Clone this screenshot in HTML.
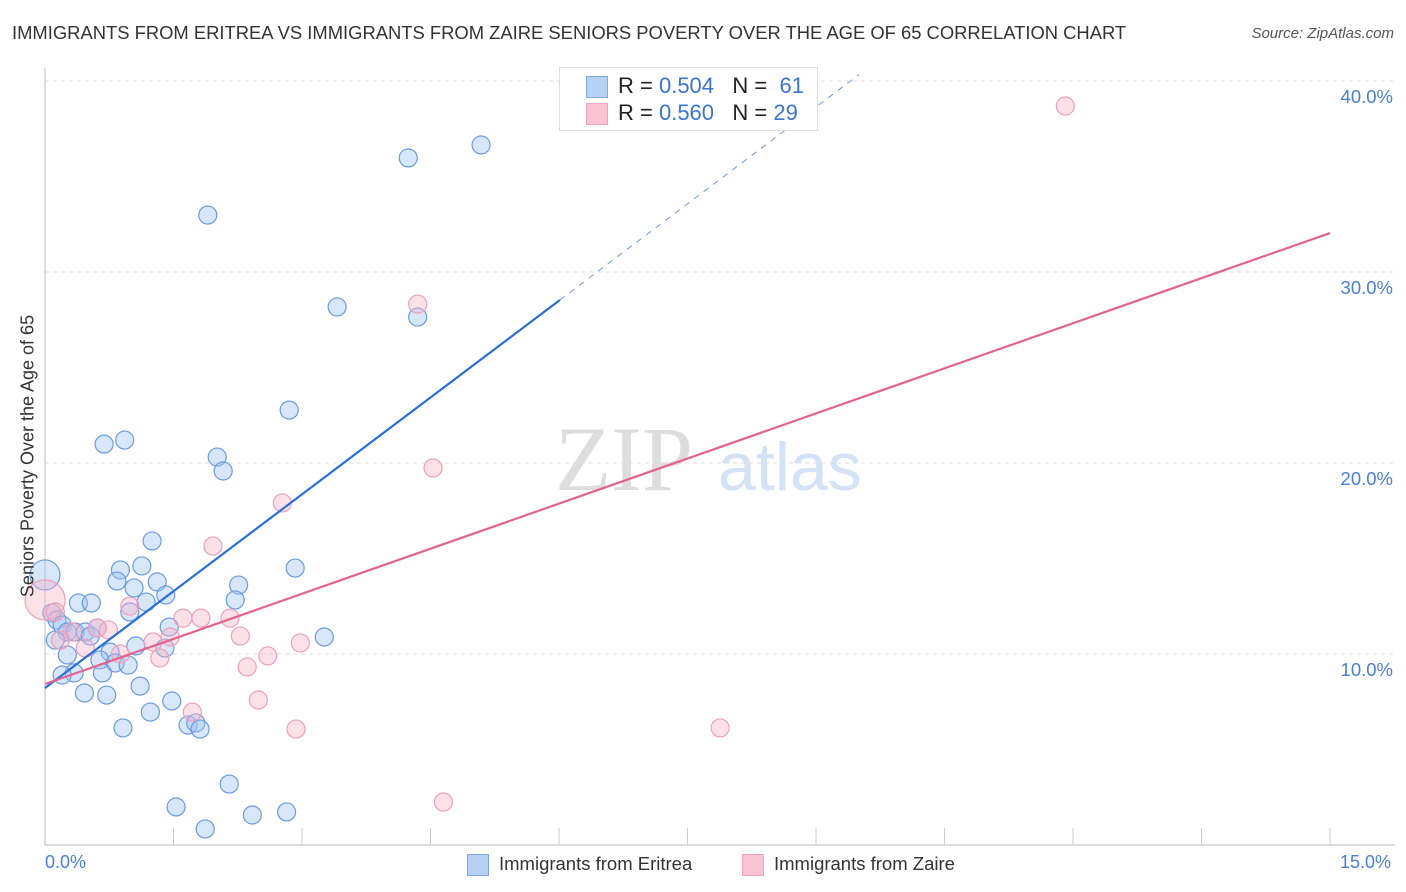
<!DOCTYPE html>
<html><head><meta charset="utf-8"><style>
body{margin:0;background:#fff;font-family:"Liberation Sans",sans-serif;}
#wrap{position:relative;width:1406px;height:892px;overflow:hidden}
.t{position:absolute;white-space:nowrap}
</style></head><body>
<div id="wrap">
<div class="t" style="left:12px;top:22px;font-size:18.4px;color:#333">IMMIGRANTS FROM ERITREA VS IMMIGRANTS FROM ZAIRE SENIORS POVERTY OVER THE AGE OF 65 CORRELATION CHART</div>
<div class="t" style="right:12px;top:25px;font-size:15px;color:#555;font-style:italic">Source: ZipAtlas.com</div>
<svg id="svg" width="1406" height="892" style="position:absolute;left:0;top:0">
<text x="555" y="490" font-size="92" fill="#ddd" font-family="Liberation Serif">ZIP</text>
<text x="718" y="490" font-size="68" fill="#d4e2f5">atlas</text>
</svg>
<div class="t" style="left:28px;top:456px;transform:translate(-50%,-50%) rotate(-90deg);font-size:18px;color:#333">Seniors Poverty Over the Age of 65</div>
<div style="position:absolute;left:559px;top:67px;width:257px;height:62px;border:1px solid #ddd;background:#fff"></div>
<div style="position:absolute;left:586px;top:76px;width:20px;height:20px;background:#b7d1f5;border:1px solid #7fa8e0"></div>
<div style="position:absolute;left:586px;top:103px;width:20px;height:20px;background:#f9c3d4;border:1px solid #eea5bd"></div>
<div class="t" style="left:618px;top:73px;font-size:22px;color:#222">R = <span style="color:#3b73d1">0.504</span>&nbsp;&nbsp;&nbsp;N = &nbsp;<span style="color:#3b73d1">61</span></div>
<div class="t" style="left:618px;top:100px;font-size:22px;color:#222">R = <span style="color:#3b73d1">0.560</span>&nbsp;&nbsp;&nbsp;N = <span style="color:#3b73d1">29</span></div>
<div class="t" style="left:45px;top:852px;font-size:18px;color:#4a7fd4">0.0%</div>
<div class="t" style="left:1340px;top:852px;font-size:18px;color:#4a7fd4">15.0%</div>
<div style="position:absolute;left:467px;top:854px;width:20px;height:20px;background:#b7d1f5;border:1px solid #7fa8e0"></div>
<div class="t" style="left:499px;top:853px;font-size:18.5px;color:#333">Immigrants from Eritrea</div>
<div style="position:absolute;left:742px;top:854px;width:20px;height:20px;background:#f9c3d4;border:1px solid #eea5bd"></div>
<div class="t" style="left:774px;top:853px;font-size:18.5px;color:#333">Immigrants from Zaire</div>
</div>
<script>
const blueX=[0,.08,.14,.20,.26,.35,.47,.53,.61,.26,.12,.39,.54,.69,.93,1.25,1.13,.88,.84,1.31,1.04,1.18,1.41,.99,1.45,1.90,4.24,5.09,3.41,4.35,2.85,2.01,2.08,2.92,2.26,2.22,3.26,1.40,1.06,.76,.64,.82,.97,.34,.67,.20,.46,.72,1.11,1.48,1.23,.91,1.67,1.76,1.81,2.15,1.53,1.87,2.42,2.82];
const blueY=[14.14,12.15,11.78,11.52,11.15,11.15,11.15,10.94,11.36,9.95,10.73,12.67,12.67,20.99,21.20,15.92,14.61,14.40,13.82,13.77,13.46,12.72,13.09,12.20,11.41,32.98,35.97,36.65,28.17,27.64,22.77,20.31,19.58,14.50,13.61,12.83,10.89,10.31,10.42,10.10,9.69,9.53,9.42,9.01,9.01,8.90,7.96,7.85,8.32,7.54,6.96,6.13,6.28,6.39,6.07,3.19,1.99,.84,1.57,1.73];
const pinkX=[0,11.91,4.35,4.53,2.77,1.96,.99,1.61,1.82,2.16,1.26,1.46,2.28,2.98,2.60,1.34,2.36,.88,.47,.61,.32,.74,.18,2.49,1.72,2.93,7.88,4.65,.12];
const pinkY=[12.83,38.69,28.32,19.74,17.91,15.65,12.51,11.88,11.88,11.88,10.63,10.89,10.94,10.58,9.90,9.79,9.32,10.00,10.31,11.36,11.15,11.26,10.73,7.59,6.96,6.07,6.13,2.25,12.20];
const yTicks=[10,20,30,40];
const yTickLabels=["10.0%","20.0%","30.0%","40.0%"];
const blueTrend=[8.22,3.38];
const pinkTrend=[8.43,1.574];
const X=v=>45+v*85.67, Y=v=>845-v*19.1;
const svg=document.getElementById('svg');const NS='http://www.w3.org/2000/svg';
function mk(t,a){const e=document.createElementNS(NS,t);for(const k in a)e.setAttribute(k,a[k]);svg.appendChild(e);return e;}
yTicks.forEach((t,i)=>{
 const g=mk('line',{x1:45,x2:1395,y1:Y(t),y2:Y(t),stroke:'#ddd','stroke-dasharray':'4,4'});
 
 
 const l=mk('text',{x:1393,y:Y(t)+22,'font-size':18.5,fill:'#4a7fd4','text-anchor':'end'});l.textContent=yTickLabels[i];
 
 
});
const ax=mk('line',{x1:45,x2:45,y1:68,y2:845,stroke:'#bbb'});


const bx=mk('line',{x1:45,x2:1395,y1:845,y2:845,stroke:'#bbb'});


for(let i=1;i<=10;i++){const tk=mk('line',{x1:X(i*1.5),x2:X(i*1.5),y1:828,y2:845,stroke:'#ccc'});
 
 }
function dots(xs,ys,fill,stroke,name){xs.forEach((x,i)=>{const r=(i===0&&x===0)?(name==='zaire-point'?20:15):9;
 const c=mk('circle',{cx:X(x),cy:Y(ys[i]),r:r,fill:fill,stroke:stroke,'stroke-width':1.2});
 
 });}
dots(blueX,blueY,'rgba(160,195,240,0.42)','#6a9be0','eritrea-point');
dots(pinkX,pinkY,'rgba(246,175,198,0.38)','#eea0b9','zaire-point');
const b1=mk('line',{x1:X(0),y1:Y(blueTrend[0]),x2:X(6.01),y2:Y(blueTrend[0]+blueTrend[1]*6.01),stroke:'#2a6fd6','stroke-width':2.2});


const b2=mk('line',{x1:X(6.01),y1:Y(blueTrend[0]+blueTrend[1]*6.01),x2:X(9.5),y2:Y(blueTrend[0]+blueTrend[1]*9.5),stroke:'#6a9be0','stroke-width':1,'stroke-dasharray':'6,6'});


const p1=mk('line',{x1:X(0),y1:Y(pinkTrend[0]),x2:X(15),y2:Y(pinkTrend[0]+pinkTrend[1]*15),stroke:'#e4628e','stroke-width':2.2});


</script>
</body></html>
